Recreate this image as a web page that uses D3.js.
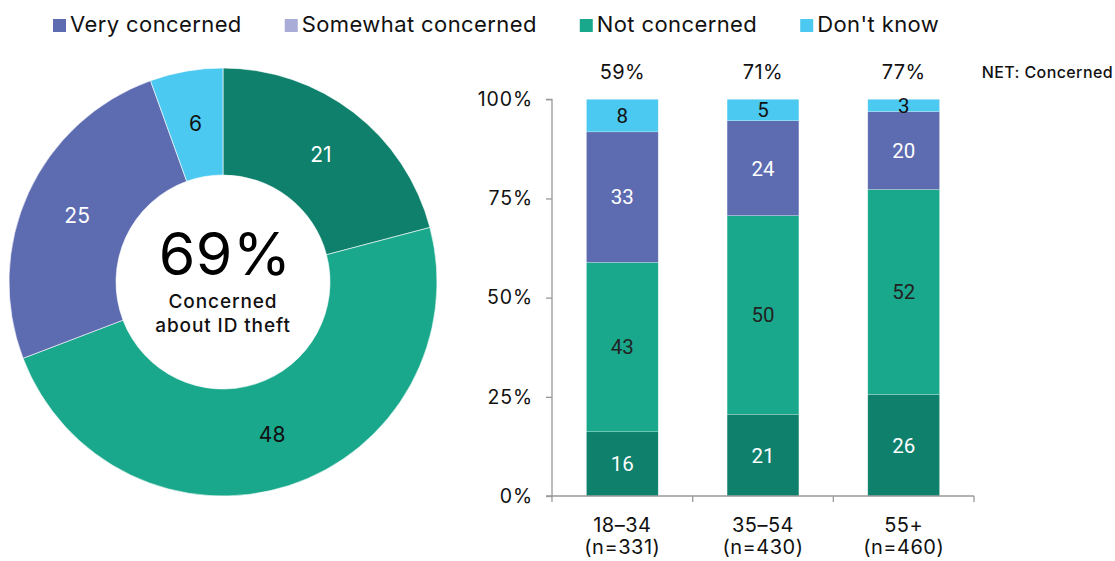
<!DOCTYPE html>
<html><head><meta charset="utf-8">
<script src="https://cdn.jsdelivr.net/npm/d3@7"></script>
<style>body{margin:0;background:#fff;}svg{display:block;font-family:Inter,"Open Sans",sans-serif;}</style>
</head><body>
<svg id="c" width="1115" height="561"></svg>
<script>
const legendLabels = ["Very concerned","Somewhat concerned","Not concerned","Don't know"];
const legendColors = ["#5d6bb1","#a9acd6","#1aa88c","#4cc9f0"];

const donutLabels = ["Somewhat concerned","Not concerned","Very concerned","Don't know"];
const donutValues = [20.9,48.3,25.3,5.5];
const donutColors = ["#0e806c","#1aa88c","#5d6bb1","#4cc9f0"];
const donutTextColors = ["#fff","#111","#fff","#111"];
const donutCenterValue = "69%";
const donutCenterText = ["Concerned","about ID theft"];

const categories = ["18\u201334","35\u201354","55+"];
const sampleSizes = ["(n=331)","(n=430)","(n=460)"];
const netConcerned = ["59%","71%","77%"];
const seriesNames = ["s1","s2","s3","s4"];
const seriesValues = [[16.2,20.6,25.6],[42.7,50.1,51.7],[32.9,23.9,19.6],[8.2,5.4,3.1]];
const seriesColors = ["#0e806c","#1aa88c","#5d6bb1","#4cc9f0"];
const seriesTextColors = ["#fff","#222","#fff","#111"];
const yTicks = [0,25,50,75,100];
const netLabel = "NET: Concerned";

const svg = d3.select("#c");

// Legend
let lx = 53;
const lg = svg.append("g");
legendLabels.forEach((l,i)=>{
  lg.append("rect").attr("x",lx).attr("y",19).attr("width",13).attr("height",13).attr("fill",legendColors[i]);
  const t = lg.append("text").attr("x",lx+17).attr("y",31.5).attr("font-size",22).attr("letter-spacing",0.4).attr("fill","#111").text(l);
  lx += 17 + t.node().getComputedTextLength() + 43;
});

// Donut
const cx=223, cy=282, rO=214, rI=107;
const pie = d3.pie().sort(null).value(d=>d)(donutValues);
const arc = d3.arc().innerRadius(rI).outerRadius(rO);
const dg = svg.append("g").attr("transform",`translate(${cx},${cy})`);
dg.selectAll("path").data(pie).join("path").attr("d",arc)
  .attr("fill",(d,i)=>donutColors[i]).attr("stroke","#fff").attr("stroke-width",0.6);
dg.selectAll("text.v").data(pie).join("text").attr("class","v")
  .attr("transform",d=>`translate(${arc.centroid(d)})`)
  .attr("text-anchor","middle").attr("dy","0.36em").attr("font-size",21)
  .attr("fill",(d,i)=>donutTextColors[i]).text(d=>Math.round(d.data));
dg.append("text").attr("text-anchor","middle").attr("x",2).attr("y",-7).attr("font-size",59).attr("letter-spacing",0.5).attr("fill","#000").text(donutCenterValue);
donutCenterText.forEach((t,i)=>{
  dg.append("text").attr("text-anchor","middle").attr("y",26+i*24).attr("font-size",19).attr("letter-spacing",0.9).attr("font-weight",500).attr("fill","#111").text(t);
});

// Bars
const x0=552, x1=974, yTop=99.3, yBot=496;
const x = d3.scaleBand().domain(categories).range([x0,x1]).paddingInner(0.49).paddingOuter(0.245);
const y = d3.scaleLinear().domain([0,100]).range([yBot,yTop]);
const stackData = categories.map((c,ci)=>{const o={cat:c}; seriesNames.forEach((s,si)=>o[s]=seriesValues[si][ci]); return o;});
const stack = d3.stack().keys(seriesNames)(stackData);
const bg = svg.append("g");
stack.forEach((layer,si)=>{
  bg.selectAll(null).data(layer).join("rect")
    .attr("x",d=>x(d.data.cat)).attr("width",x.bandwidth())
    .attr("y",d=>y(d[1])).attr("height",d=>y(d[0])-y(d[1]))
    .attr("fill",seriesColors[si]).attr("stroke","rgba(255,255,255,0.35)").attr("stroke-width",0.6);
  bg.selectAll(null).data(layer).join("text")
    .attr("x",d=>x(d.data.cat)+x.bandwidth()/2)
    .attr("y",d=>y((d[0]+d[1])/2)).attr("dy","0.36em")
    .attr("text-anchor","middle").attr("font-family","Roboto,sans-serif").attr("font-size",20.5)
    .attr("fill",seriesTextColors[si]).text(d=>Math.round(d[1]-d[0]));
});

// Y axis
const ya = svg.append("g").attr("transform",`translate(${x0},0)`)
  .call(d3.axisLeft(y).tickValues(yTicks).tickFormat(d=>d+"%").tickSize(6).tickPadding(13));
ya.select(".domain").attr("stroke","#999").attr("stroke-width",1.3).attr("d",`M-6,${yTop}H0V${yBot}H-6`);
ya.selectAll(".tick line").attr("stroke","#999").attr("stroke-width",1.3);
ya.selectAll(".tick text").attr("font-family","Inter,sans-serif").attr("font-size",19.5).attr("letter-spacing",0.9).attr("fill","#111");

// X axis line with boundary ticks
const xg = svg.append("g");
xg.append("line").attr("x1",x0).attr("x2",x1).attr("y1",yBot).attr("y2",yBot).attr("stroke","#999").attr("stroke-width",1.3);
d3.range(categories.length+1).forEach(i=>{
  const xx = x0 + i*x.step();
  xg.append("line").attr("x1",xx).attr("x2",xx).attr("y1",yBot).attr("y2",yBot+6).attr("stroke","#999").attr("stroke-width",1.3);
});
categories.forEach((c,i)=>{
  const cxp = x(c)+x.bandwidth()/2;
  xg.append("text").attr("x",cxp).attr("y",531.5).attr("text-anchor","middle").attr("font-size",20).attr("letter-spacing",0.5).attr("fill","#111").text(c);
  xg.append("text").attr("x",cxp).attr("y",554).attr("text-anchor","middle").attr("font-size",20).attr("letter-spacing",0.5).attr("fill","#111").text(sampleSizes[i]);
  xg.append("text").attr("x",cxp).attr("y",79.3).attr("text-anchor","middle").attr("font-size",20).attr("letter-spacing",0.4).attr("fill","#111").text(netConcerned[i]);
});
svg.append("text").attr("x",1113).attr("y",78.3).attr("text-anchor","end").attr("font-size",16).attr("letter-spacing",0.4).attr("font-weight",500).attr("fill","#111").text(netLabel);
</script>
</body></html>
